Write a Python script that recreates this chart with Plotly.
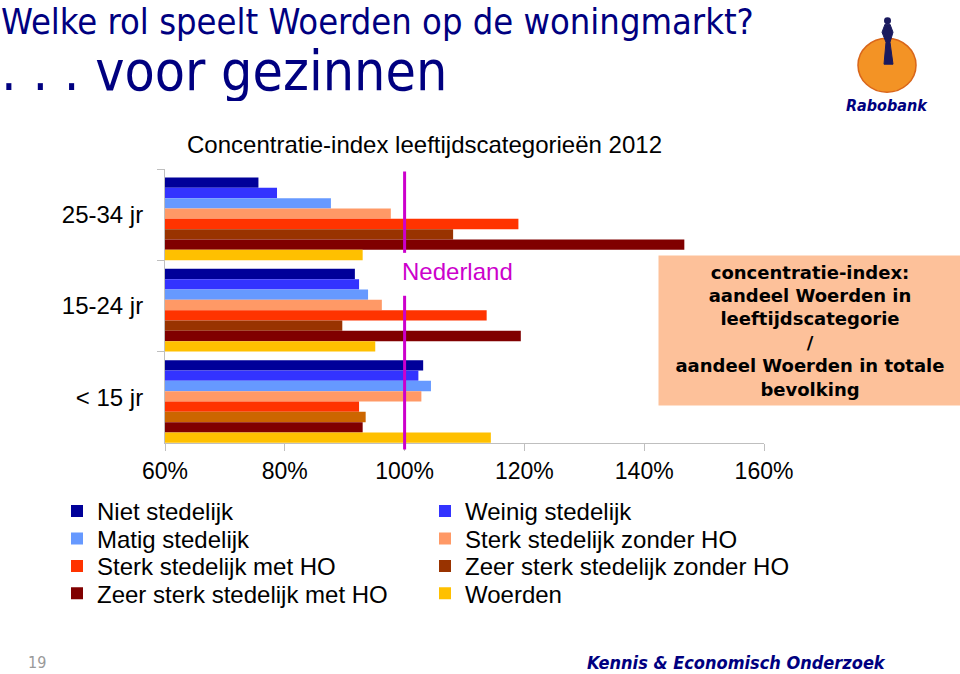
import plotly.graph_objects as go

categories = ["25-34 jr", "15-24 jr", "< 15 jr"]
series_names = [
    "Niet stedelijk", "Weinig stedelijk", "Matig stedelijk", "Sterk stedelijk zonder HO",
    "Sterk stedelijk met HO", "Zeer sterk stedelijk zonder HO", "Zeer sterk stedelijk met HO", "Woerden",
]
niet_stedelijk = [75.6, 91.7, 103.1]
weinig_stedelijk = [78.7, 92.4, 102.3]
matig_stedelijk = [87.7, 93.9, 104.4]
sterk_zonder_ho = [97.7, 96.2, 102.8]
sterk_met_ho = [119.0, 113.7, 92.4]
zeer_sterk_zonder_ho = [108.1, 89.6, 93.5]
zeer_sterk_met_ho = [146.7, 119.4, 93.0]
woerden = [93.0, 95.1, 114.4]
series_values = [niet_stedelijk, weinig_stedelijk, matig_stedelijk, sterk_zonder_ho,
                 sterk_met_ho, zeer_sterk_zonder_ho, zeer_sterk_met_ho, woerden]
colors = ["#000099", "#3333FF", "#6699FF", "#FF9966", "#FF3300",
          ["#993300", "#993300", "#CC6600"], "#800000", "#FFC000"]
x_tickvals = [60, 80, 100, 120, 140, 160]
x_ticktext = ["60%", "80%", "100%", "120%", "140%", "160%"]
NEDERLAND = 100

W, H = 960, 674
L, R, T, B = 165, 764, 169, 443.5
pw, ph = R - L, B - T

def px(x):
    return (x - L) / pw

def py(y):
    return (B - y) / ph

fig = go.Figure()
bw = 0.1131
start = -0.5 + 0.093
row_y = [512, 539.5, 567, 594.5]
col_x = [97, 465]
legend_pos = [(col_x[i % 2], row_y[i // 2]) for i in range(len(series_names))]

for i, (name, vals) in enumerate(zip(series_names, series_values)):
    fig.add_trace(go.Bar(
        y=categories, x=vals, name=name, orientation="h",
        marker=dict(color=colors[i], line=dict(width=0)),
        width=bw, offset=start + i * bw,
        legend="legend" if i == 0 else f"legend{i + 1}",
    ))

# Nederland reference line (two segments around the label)
for y0, y1 in [(171.5, 253), (296, 450)]:
    fig.add_shape(type="line", xref="x", yref="paper", x0=NEDERLAND, x1=NEDERLAND,
                  y0=py(y1), y1=py(y0), line=dict(color="#CC00CC", width=3))

NARROW = "Liberation Sans Narrow, Arial Narrow, DejaVu Sans Condensed, sans-serif"
ARIAL = "Liberation Sans, Arial, sans-serif"
TAHOMA = "DejaVu Sans Condensed, Tahoma, sans-serif"
ann = []
ann.append(dict(text="Nederland", xref="x", yref="paper", x=NEDERLAND, y=py(272),
                xanchor="left", yanchor="middle", xshift=-5, showarrow=False,
                font=dict(family=ARIAL, size=24, color="#CC00CC")))
ann.append(dict(text="Welke rol speelt Woerden op de woningmarkt?", xref="paper", yref="paper",
                x=px(0), y=py(0), xanchor="left", yanchor="top", height=40, valign="middle",
                showarrow=False, borderpad=0,
                font=dict(family=NARROW, size=36, color="#000080")))
ann.append(dict(text=". . . voor gezinnen", xref="paper", yref="paper",
                x=px(0), y=py(40), xanchor="left", yanchor="top", height=60, valign="middle",
                showarrow=False, borderpad=0,
                font=dict(family=NARROW, size=55, color="#000080")))
ann.append(dict(text="Concentratie-index leeftijdscategorieën 2012", xref="paper", yref="paper",
                x=px(424), y=py(144), xanchor="center", yanchor="middle", showarrow=False,
                font=dict(family=ARIAL, size=24, color="#000000")))
ann.append(dict(text="<b>concentratie-index:<br>aandeel Woerden in<br>leeftijdscategorie<br>/<br>aandeel Woerden in totale<br>bevolking</b>",
                xref="paper", yref="paper", x=px(658), y=py(255), xanchor="left", yanchor="top",
                width=302, height=149, align="center", valign="middle", bgcolor="#FDC19A",
                borderpad=0, showarrow=False,
                font=dict(family="DejaVu Sans, Verdana, sans-serif", size=18, color="#000000")))
ann.append(dict(text="19", xref="paper", yref="paper", x=px(26), y=py(663), xanchor="left",
                yanchor="middle", showarrow=False,
                font=dict(family=TAHOMA, size=16, color="#999999")))
ann.append(dict(text="<b><i>Kennis &amp; Economisch Onderzoek</i></b>", xref="paper", yref="paper",
                x=px(888), y=py(663), xanchor="right", yanchor="middle", showarrow=False,
                font=dict(family=TAHOMA, size=18, color="#000080")))
ann.append(dict(text="<b><i>Rabobank</i></b>", xref="paper", yref="paper",
                x=px(887), y=py(105), xanchor="center", yanchor="middle", showarrow=False,
                font=dict(family=TAHOMA, size=16, color="#000080")))

# Rabobank logo (simplified)
fig.add_shape(type="circle", xref="paper", yref="paper", x0=px(858), x1=px(916),
              y0=py(92), y1=py(38), fillcolor="#F39325", line=dict(color="#D9661A", width=1.5))
fig.add_shape(type="path", xref="paper", yref="paper",
              path=f"M {px(884)},{py(64)} L {px(886)},{py(42)} L {px(882)},{py(32)} L {px(885)},{py(24)} "
                   f"L {px(890)},{py(24)} L {px(893)},{py(32)} L {px(890)},{py(42)} L {px(893)},{py(64)} Z",
              fillcolor="#1A1A5E", line=dict(color="#1A1A5E", width=1))
fig.add_shape(type="circle", xref="paper", yref="paper", x0=px(884), x1=px(891),
              y0=py(24), y1=py(17), fillcolor="#1A1A5E", line=dict(width=0))

layout_legends = {}
for i, (tx, ty) in enumerate(legend_pos):
    key = "legend" if i == 0 else f"legend{i + 1}"
    layout_legends[key] = dict(
        orientation="v", x=px(tx - 40), y=py(ty), xanchor="left", yanchor="middle",
        xref="paper", yref="paper", itemwidth=30, bgcolor="rgba(0,0,0,0)",
        font=dict(family=ARIAL, size=24, color="#000000"))

fig.update_layout(
    width=W, height=H,
    margin=dict(l=L, r=W - R, t=T, b=H - B, autoexpand=False),
    paper_bgcolor="white", plot_bgcolor="white",
    barmode="overlay",
    annotations=ann,
    showlegend=True,
    xaxis=dict(range=[60, 160], tickvals=x_tickvals, ticktext=x_ticktext,
               showgrid=False, zeroline=False, showline=True, linecolor="#BFBFBF", linewidth=1,
               ticks="outside", ticklen=7, tickcolor="#BFBFBF",
               tickfont=dict(family=ARIAL, size=23, color="#000000")),
    yaxis=dict(categoryorder="array", categoryarray=categories, autorange="reversed",
               showgrid=False, zeroline=False, showline=True, linecolor="#BFBFBF", linewidth=1,
               ticks="outside", ticklen=7, tickcolor="#BFBFBF", tickson="boundaries",
               ticklabelstandoff=16,
               tickfont=dict(family=ARIAL, size=24, color="#000000")),
    **layout_legends,
)

# remove the default 8px page margin so the figure fills the window exactly
fig.write_html("out.html", config={"displayModeBar": False},
               post_script="document.body.style.margin='0px';")
